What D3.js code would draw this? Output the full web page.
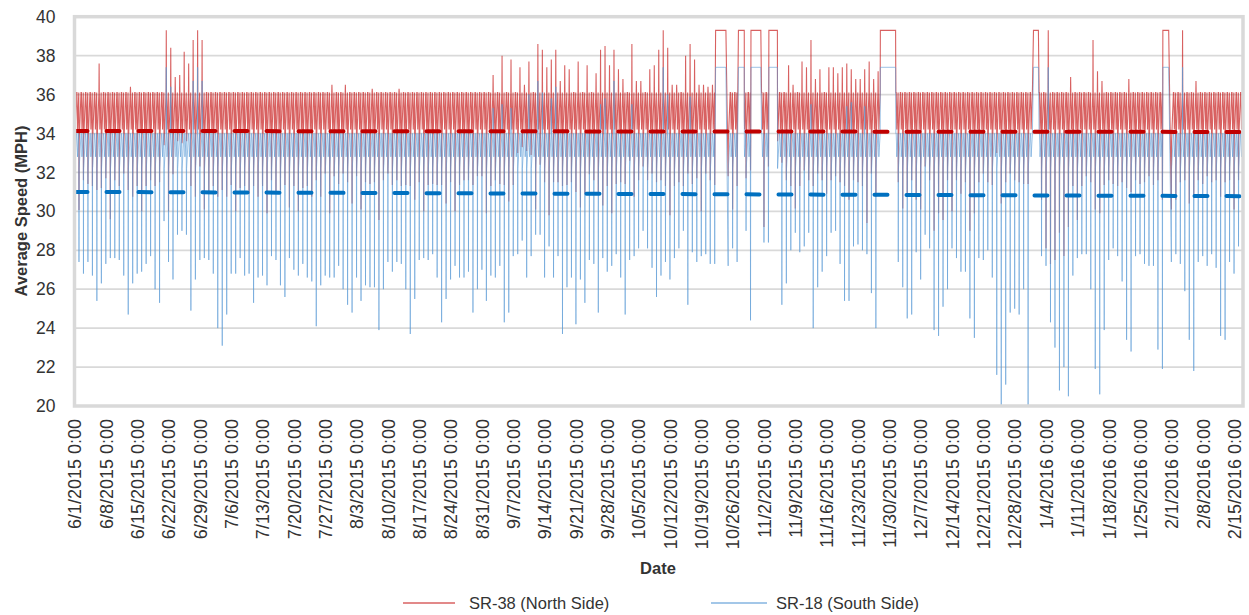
<!DOCTYPE html>
<html lang="en">
<head>
  <meta charset="UTF-8">
  <title>speed</title>
  <script src="https://d3js.org/d3.v7.min.js"></script>
  <style>
    body { margin: 0; background: #fff; }
    text { font-family: "Liberation Sans", Arial, sans-serif; fill: #333; }
  </style>
</head>
<body>
  <div id="chart"></div>
  <script>
    // daily low (bottom of the daily dip), one value per day from 6/1/2015
    var northLow = [
      31.95, 30.07, 31.6, 31.4, 31.3, 31.1, 31.2, 31.7, 29.6, 31.6, 31.3, 31.95, 31.1, 30.75, 31.3, 30.0, 31.3, 31.6, 31.3, 31.5,
      33.4, 30.0, 31.9, 33.7, 33.5, 33.7, 31.3, 30.75, 32.3, 30.1, 30.9, 31.3, 30.75, 31.1, 30.75, 31.35, 30.0, 31.2, 31.3, 30.9,
      31.3, 30.75, 31.3, 29.9, 31.6, 31.0, 31.1, 31.35, 30.2, 31.3, 30.0, 31.2, 31.3, 30.75, 31.6,
      30.75, 31.95, 29.9, 31.8, 31.4, 31.95, 31.5, 30.4, 31.8, 30.1, 31.5, 31.4, 31.5, 29.55, 31.6, 31.95, 31.35, 31.6, 31.3, 31.35,
      31.3, 30.6, 31.5, 30.0, 31.35, 31.4, 31.35, 31.35, 30.4, 31.5, 30.0, 31.35, 31.6, 31.6, 31.35, 31.8, 31.8, 29.9, 31.3, 31.6,
      31.4, 31.35, 30.5, 31.35, 33.0, 33.3, 33.1, 32.9, 30.1, 32.4, 31.5, 29.8, 31.5, 31.5, 31.3, 31.35, 31.5, 31.0, 30.2, 30.9,
      31.9, 31.6, 30.9, 30.3, 31.3, 29.9, 31.4,
      31.5, 31.4, 32.6, 30.75, 31.6, 32.3, 31.6, 31.95, 31.5, 31.6, 31.3, 29.8, 31.3, 31.5, 31.3, 31.95, 31.4, 31.7, 30.0, 31.95,
      31.6, 31.35, null, null,
      31.8, 30.1, 31.3, 31.95, 31.7, 32.1, 32.5, 32.55, 29.2, 32.3, 31.3, 31.95, 32.5, 31.6, 31.3, 30.15, 31.3, 32.1, 31.6, 31.3,
      31.95, 31.6, 30.9, 31.6, 31.8, 31.5, 31.3, 30.6, 31.6, 31.5, 31.3, 29.4, 31.95, 30.75, 30.6, null, null,
      31.95, 31.5, 30.15, 30.75, 31.6,
      30.6, 30.1, 32.3, 31.6, 29.0, 29.9, 29.55, 31.6, 30.0, 31.6, 30.9, 31.5, 29.0, 29.9, 31.5, 31.95, 31.5, 31.35, 33.0, 30.4,
      31.5, 31.95, 31.6, 31.5, 31.4, 31.4, null, 31.8,
      30.6, 28.1, 27.3, 27.5, 28.9, 27.7, 29.2, 31.3, 29.55, 31.3,
      31.8, 31.5, 30.1, 29.9, 31.35, 31.6, 31.4, 31.3, 31.5, 31.2,
      31.0, 31.6, 31.4, 31.5, 31.8, 31.35, 31.6, 30.6, null,
      30.1, 30.6, 31.5, 31.6, 30.4, 30.7, 31.6, 31.4, 31.8, 31.5, 31.6, 30.75, 31.5, 31.6, 30.1, 31.6
    ];
    var southLow = [
      27.5, 27.4, 26.8, 27.4, 26.7, 25.4, 26.3, 27.3, 27.6, 27.6, 27.5, 26.7, 24.7, 26.3, 26.8, 26.9, 27.3, 27.7, 26.0, 25.3,
      29.5, 27.4, 26.5, 28.8, 29.0, 28.8, 24.9, 26.5, 27.5, 27.6, 27.5, 26.8, 24.0, 23.1, 24.7, 26.8, 26.8, 27.6, 26.7, 26.8,
      25.3, 26.6, 26.7, 26.2, 27.7, 27.5, 26.2, 25.6, 27.6, 27.0, 26.7, 27.3, 26.6, 26.4, 24.1,
      26.2, 26.7, 26.6, 26.6, 27.2, 26.0, 25.2, 24.8, 26.6, 25.4, 26.2, 26.1, 26.1, 23.9, 26.0, 27.4, 26.9, 27.4, 27.3, 26.0,
      23.7, 25.5, 27.5, 27.6, 27.5, 27.8, 26.6, 24.3, 25.5, 26.5, 27.2, 26.6, 26.6, 26.9, 24.8, 26.0, 27.0, 25.4, 26.7, 26.6,
      27.2, 24.3, 24.8, 27.7, 27.8, 28.5, 26.6, 27.7, 28.8, 28.8, 26.6, 28.2, 26.6, 27.7, 23.7, 26.1, 26.6, 24.2, 26.5, 25.3,
      27.5, 27.3, 24.8, 27.6, 26.9, 27.2, 27.8,
      26.6, 24.7, 27.5, 27.7, 28.1, 29.0, 28.1, 27.1, 25.6, 26.7, 27.4, 26.5, 27.6, 28.1, 29.0, 25.2, 27.9, 27.4, 27.7, 27.8,
      27.3, 27.3, null, null,
      27.2, 28.1, 27.4, 27.6, 29.0, 24.4, 28.3, 27.7, 28.4, 28.4, 27.2, 27.2, 25.2, 26.3, 28.0, 28.9, 27.9, 28.2, 28.9, 24.0,
      26.1, 26.9, 27.7, 28.9, 29.0, 27.3, 25.4, 25.4, 28.2, 28.3, 28.0, 27.8, 25.8, 24.0, 26.3, null, null,
      28.6, 27.4, 26.1, 24.5, 24.7,
      27.9, 26.5, 28.8, 28.1, 23.9, 23.6, 25.1, 26.0, 28.1, 27.6, 26.9, 26.9, 24.5, 23.5, 27.6, 27.5, 28.0, 26.6, 21.6, 20.0,
      21.1, 24.8, 25.0, 24.7, 26.0, 20.0, null, 28.6,
      27.7, 27.2, 24.3, 23.0, 20.8, 22.0, 20.5, 26.7, 27.6, 27.8,
      27.8, 26.0, 21.9, 20.6, 23.9, 27.5, 28.1, 27.7, 26.4, 23.4,
      22.8, 27.7, 27.8, 27.3, 27.2, 27.2, 22.9, 21.9, null,
      27.4, 27.8, 27.3, 25.9, 23.4, 21.8, 27.4, 27.7, 27.2, 27.8, 27.1, 23.6, 23.4, 27.4, 26.8, 28.2
    ];

    // [day, value] daily highs that rise above the usual ceiling
    var northPeaks = [
      [5, 37.6], [12, 36.4], [20, 39.3], [21, 38.4], [22, 36.9], [23, 37.0], [24, 38.2], [25, 37.6], [26, 38.8], [27, 39.3],
      [28, 38.8], [57, 36.5], [60, 36.5], [66, 36.3], [72, 36.3], [93, 37.0], [95, 38.0], [97, 37.8], [99, 37.4], [100, 36.5],
      [101, 37.7], [103, 38.6], [104, 38.3], [105, 37.4], [106, 37.8], [107, 38.3], [108, 36.7], [109, 37.5], [110, 37.3],
      [112, 37.7], [114, 37.5], [116, 37.1], [117, 38.3], [118, 38.5], [119, 37.5], [120, 38.3], [121, 37.3], [122, 36.8],
      [124, 38.6], [125, 36.7], [126, 36.7], [128, 37.3], [129, 37.5], [130, 38.3], [131, 39.3], [132, 38.4], [133, 36.5],
      [134, 36.5], [136, 38.0], [137, 38.6], [138, 37.8], [139, 36.5], [140, 36.5], [141, 36.4], [142, 36.5], [159, 37.5],
      [160, 36.5], [162, 37.7], [163, 37.4], [164, 38.8], [165, 36.8], [166, 37.3], [168, 37.4], [169, 37.4], [170, 37.1],
      [171, 37.4], [172, 37.6], [173, 37.3], [174, 36.8], [175, 36.8], [176, 37.3], [177, 37.7], [178, 36.8], [179, 37.2],
      [217, 39.3], [222, 36.9], [227, 38.8], [228, 37.2], [229, 36.7], [235, 36.8], [247, 39.3], [250, 36.7]
    ];
    var southPeaks = [
      [20, 37.4], [21, 36.4], [26, 36.7], [27, 37.4], [28, 36.7], [93, 35.3], [95, 35.5], [97, 35.3], [101, 36.0],
      [103, 36.7], [104, 36.1], [106, 35.8], [107, 36.4], [117, 35.5], [118, 35.8], [120, 36.7], [124, 35.5],
      [131, 37.4], [132, 36.0], [137, 35.9], [164, 35.5], [172, 35.4], [173, 35.6], [176, 35.4], [217, 37.4], [247, 37.4]
    ];

    // stretches where both series sit flat at a fixed value, [startDay, endDay]
    var flatSpans = [[143.2, 145.5], [148.3, 149.6], [151.1, 153.3], [155.1, 157.0], [180.0, 183.4], [214.2, 215.3], [243.1, 244.4]];
    var northFlat = 39.3, southFlat = 37.4;

    // usual daily ceiling, value right after the dip, small evening dip
    var northLevels = { top: 36.1, rise: 33.6, dip: 34.9 };
    var southLevels = { top: 34.0, rise: 32.2, dip: 33.3 };

    var northTrend = [34.13, 34.08];
    var southTrend = [31.0, 30.78];

    var yTicks = [20, 22, 24, 26, 28, 30, 32, 34, 36, 38, 40];
    var seriesNames = ["SR-38 (North Side)", "SR-18 (South Side)"];

    var chartW = 1249, chartH = 615;
    var plotL = 74.5, plotR = 1243, plotT = 16.7, plotB = 406;
    var startMs = Date.UTC(2015, 5, 1), endMs = Date.UTC(2016, 1, 17);
    var dayMs = 864e5;

    var svg = d3.select("#chart").append("svg")
      .attr("width", chartW)
      .attr("height", chartH);

    var x = d3.scaleUtc().domain([startMs, endMs]).range([plotL, plotR]);
    var y = d3.scaleLinear().domain([20, 40]).range([plotB, plotT]);

    // gridlines
    svg.append("g").selectAll("line")
      .data(yTicks)
      .join("line")
      .attr("x1", plotL).attr("x2", plotR)
      .attr("y1", d => y(d)).attr("y2", d => y(d))
      .attr("stroke", "#d9d9d9")
      .attr("stroke-width", 1.7);

    function buildSeries(low, lv, peaks, flat) {
      var peakMap = new Map(peaks);
      var pts = [];
      low.forEach(function (lo, d) {
        if (lo === null) return;
        var pk = peakMap.has(d) ? peakMap.get(d) : lv.top;
        [[0, lo], [1, lv.rise], [11, lv.top], [12, pk], [13, lv.top], [15, lv.dip], [16, lv.rise + 0.6], [23, lv.top]]
          .forEach(function (p) {
            pts.push({ t: d + p[0] / 24, v: p[1] });
          });
      });
      pts = pts.filter(p => !flatSpans.some(s => p.t >= s[0] && p.t <= s[1]));
      flatSpans.forEach(function (s) {
        pts.push({ t: s[0], v: flat });
        pts.push({ t: s[1], v: flat });
      });
      pts.sort((a, b) => a.t - b.t);
      return pts;
    }

    var line = d3.line()
      .x(p => x(startMs + p.t * dayMs))
      .y(p => y(p.v));

    svg.append("clipPath").attr("id", "plot")
      .append("rect")
      .attr("x", plotL).attr("y", plotT - 1)
      .attr("width", plotR - plotL).attr("height", plotB - plotT + 2);

    var plot = svg.append("g").attr("clip-path", "url(#plot)");

    plot.append("path")
      .datum(buildSeries(northLow, northLevels, northPeaks, northFlat))
      .attr("d", line)
      .attr("fill", "none")
      .attr("stroke", "#c00000")
      .attr("stroke-opacity", 0.62)
      .attr("stroke-width", 1.1);

    plot.append("path")
      .datum(buildSeries(southLow, southLevels, southPeaks, southFlat))
      .attr("d", line)
      .attr("fill", "none")
      .attr("stroke", "#5b9bd5")
      .attr("stroke-opacity", 0.6)
      .attr("stroke-width", 1);

    // linear trendlines
    var trend = d3.line()
      .x(p => x(p[0]))
      .y(p => y(p[1]));

    [[northTrend, "#c00000"], [southTrend, "#0070c0"]].forEach(function (tr) {
      plot.append("path")
        .datum([[startMs, tr[0][0]], [endMs, tr[0][1]]])
        .attr("d", trend)
        .attr("fill", "none")
        .attr("stroke", tr[1])
        .attr("stroke-width", 4)
        .attr("stroke-linecap", "round")
        .attr("stroke-dasharray", "13 19");
    });

    // plot frame
    svg.append("rect")
      .attr("x", plotL).attr("y", plotT)
      .attr("width", plotR - plotL).attr("height", plotB - plotT)
      .attr("fill", "none")
      .attr("stroke", "#d9d9d9")
      .attr("stroke-width", 3.5);

    // axes
    var tickDates = d3.utcMonday.range(startMs, Date.UTC(2016, 1, 16));
    var fmt = d3.utcFormat("%-m/%-d/%Y 0:00");

    var xAxis = svg.append("g")
      .attr("transform", "translate(0," + plotB + ")")
      .call(d3.axisBottom(x).tickValues(tickDates).tickFormat(fmt).tickSize(0).tickPadding(0));
    xAxis.select(".domain").remove();
    xAxis.selectAll("text")
      .attr("transform", "rotate(-90)")
      .attr("x", -13)
      .attr("y", 0)
      .attr("dy", "0.35em")
      .style("text-anchor", "end")
      .style("font-size", "18px")
      .style("font-family", "Liberation Sans, Arial, sans-serif")
      .style("fill", "#333");

    var yAxis = svg.append("g")
      .attr("transform", "translate(" + plotL + ",0)")
      .call(d3.axisLeft(y).tickValues(yTicks).tickSize(0).tickPadding(19));
    yAxis.select(".domain").remove();
    yAxis.selectAll("text")
      .style("font-size", "17.5px")
      .style("font-family", "Liberation Sans, Arial, sans-serif")
      .style("fill", "#333");

    // titles
    svg.append("text")
      .attr("transform", "translate(21,211) rotate(-90)")
      .attr("text-anchor", "middle")
      .attr("dy", "0.35em")
      .style("font-size", "16.5px")
      .style("font-weight", "bold")
      .text("Average Speed (MPH)");

    svg.append("text")
      .attr("x", 658)
      .attr("y", 568)
      .attr("text-anchor", "middle")
      .attr("dy", "0.35em")
      .style("font-size", "16.5px")
      .style("font-weight", "bold")
      .text("Date");

    // legend
    var legend = svg.append("g");
    [[403, 455, 469, "#c00000", 0.62], [711, 767, 776, "#5b9bd5", 0.75]].forEach(function (l, i) {
      legend.append("line")
        .attr("x1", l[0]).attr("x2", l[1])
        .attr("y1", 603).attr("y2", 603)
        .attr("stroke", l[3])
        .attr("stroke-opacity", l[4])
        .attr("stroke-width", 1.5);
      legend.append("text")
        .attr("x", l[2])
        .attr("y", 603)
        .attr("dy", "0.35em")
        .style("font-size", "16.5px")
        .text(seriesNames[i]);
    });
  </script>
</body>
</html>
